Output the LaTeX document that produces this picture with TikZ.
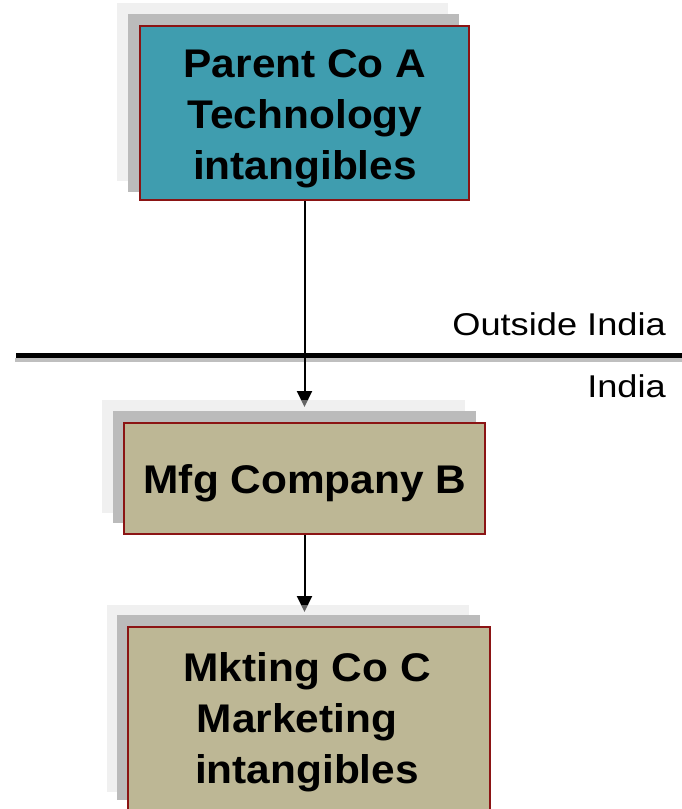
\documentclass[tikz,border=0pt]{standalone}
\usepackage{fontspec}
\setmainfont{Liberation Sans}
\newfontfamily\boxfont{Liberation Sans}[FakeStretch=1.06]
\newfontfamily\regionfont{Liberation Sans}[FakeStretch=1.15]
\usetikzlibrary{arrows.meta}

\definecolor{tealfill}{RGB}{63,157,175}
\definecolor{tanfill}{RGB}{189,183,149}
\definecolor{boxborder}{RGB}{139,20,20}
\definecolor{shadowdark}{RGB}{187,187,187}
\definecolor{shadowlight}{RGB}{222,222,222}

\pgfdeclarelayer{under}
\pgfsetlayers{under,main}

\begin{document}
\begin{tikzpicture}[x=1pt,y=-1pt,
  mainbox/.style={draw=boxborder, line width=1.5pt, inner sep=0pt, outer sep=0pt},
  darkshadow/.style={fill=shadowdark},
  lightshadow/.style={fill=shadowlight, fill opacity=0.45},
  boxtext/.style={font=\boxfont\bfseries\fontsize{40}{51}\selectfont, align=center, inner sep=0pt},
  regiontext/.style={font=\regionfont\fontsize{31.5}{38}\selectfont, inner sep=0pt, anchor=base east},
  flow/.style={line width=2pt, -{Triangle[length=16pt,width=15pt]}},
  border/.style={line width=5pt}
]
\useasboundingbox (0,0) rectangle (682,809);
\clip (0,0) rectangle (682,809);

% Parent company, outside India
\fill[lightshadow] (117,3) rectangle (448,181);
\fill[darkshadow] (128,14) rectangle (459,192);
\node[mainbox, fill=tealfill, minimum width=329pt, minimum height=174pt] (a) at (304.5,113) {};
\node[boxtext] (a-text) at (305,119) {Parent Co A\\Technology\\intangibles};

% Manufacturing company
\fill[lightshadow] (102,400) rectangle (465,513);
\fill[darkshadow] (113,411) rectangle (476,523);
\node[mainbox, fill=tanfill, minimum width=361pt, minimum height=111pt] (b) at (304.5,478.5) {};
\node[boxtext] (b-text) at (305,483) {Mfg Company B};

% Marketing company
\fill[lightshadow] (107,605) rectangle (469,792);
\fill[darkshadow] (117,615) rectangle (480,800);
\node[mainbox, fill=tanfill, minimum width=362pt, minimum height=185pt] (c) at (309,719.5) {};
\node[boxtext] (c-text) at (307,722) {Mkting Co C\\Marketing\kern20pt\\intangibles};

% Region labels
\node[regiontext] (outside) at (666,335) {Outside India};
\node[regiontext] (india) at (666,397) {India};

% Border line and flows, kept beneath the boxes
\coordinate (border-w) at (16,355.5);
\coordinate (border-e) at (682,355.5);
\coordinate (b-in) at (304.5,407);
\coordinate (c-in) at (304.5,612);
\begin{pgfonlayer}{under}
  \draw[line width=4pt, black!25] ([shift={(-1,4)}]border-w) -- ([shift={(0,4)}]border-e);
  \draw[border] (border-w) -- (border-e);
  \draw[flow] (a.south) -- (b-in);
  \draw[flow] (b.south) -- (c-in);
\end{pgfonlayer}
\end{tikzpicture}
\end{document}
